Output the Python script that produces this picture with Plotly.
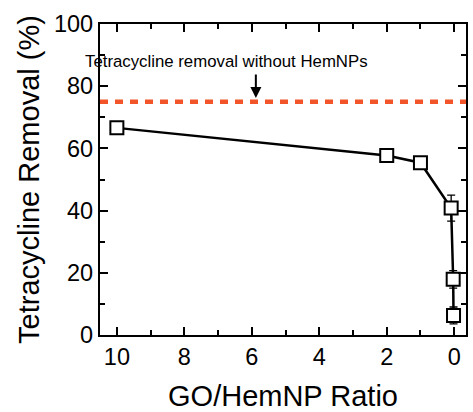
import plotly.graph_objects as go

ratio = [10, 2, 1, 0.09, 0.03, 0.02]
removal = [66.6, 57.7, 55.4, 40.8, 17.9, 6.3]
err = [1.0, 1.2, 0.8, 4.2, 2.8, 2.7]
baseline = 75
xticks = [10, 8, 6, 4, 2, 0]
yticks = [0, 20, 40, 60, 80, 100]
note = "Tetracycline removal without HemNPs"

FONT = "Arial, Liberation Sans, Helvetica, sans-serif"

fig = go.Figure()
fig.add_trace(go.Scatter(
    x=[10.5, -0.35], y=[baseline, baseline], mode="lines",
    line=dict(color="#f2552a", width=4.5, dash="8px,7px"),
    showlegend=False, hoverinfo="skip"))
fig.add_trace(go.Scatter(
    x=ratio, y=removal, mode="lines+markers",
    line=dict(color="black", width=2.5),
    marker=dict(symbol="square", size=13, color="white",
                line=dict(color="black", width=2)),
    error_y=dict(type="data", array=err, visible=True, color="black",
                 thickness=1.3, width=4),
    showlegend=False))

fig.add_annotation(x=6.75, y=88, text=note, showarrow=False,
                   font=dict(family=FONT, size=16.8, color="black"))
fig.add_annotation(x=5.88, y=76.2, ax=0, ay=-25, text="", showarrow=True,
                   arrowhead=2, arrowsize=1.1, arrowwidth=2, arrowcolor="black")

def axis_style(minor_dtick):
    return dict(showline=True, linecolor="black", linewidth=2.2, mirror="allticks",
                ticks="inside", ticklen=8, tickwidth=2.2, tickcolor="black",
                showgrid=False, zeroline=False,
                tickfont=dict(family=FONT, size=23.5, color="black"),
                minor=dict(ticks="inside", ticklen=5, tickwidth=2.2, tickcolor="black",
                           dtick=minor_dtick, tick0=0, showgrid=False))

fig.update_xaxes(range=[10.5, -0.35], tickmode="array", tickvals=xticks,
                 ticktext=[str(v) for v in xticks],
                 title=dict(text="GO/HemNP Ratio", font=dict(family=FONT, size=29, color="black"),
                            standoff=16),
                 **axis_style(1))
fig.update_yaxes(range=[0, 100], tickmode="array", tickvals=yticks,
                 ticktext=[str(v) for v in yticks],
                 title=dict(text="Tetracycline Removal (%)", font=dict(family=FONT, size=29, color="black"),
                            standoff=6),
                 **axis_style(10))

fig.update_layout(width=473, height=412, margin=dict(l=100, r=5, t=24, b=74),
                  plot_bgcolor="white", paper_bgcolor="white",
                  font=dict(family=FONT, color="black"))

fig.write_html("out.html")
